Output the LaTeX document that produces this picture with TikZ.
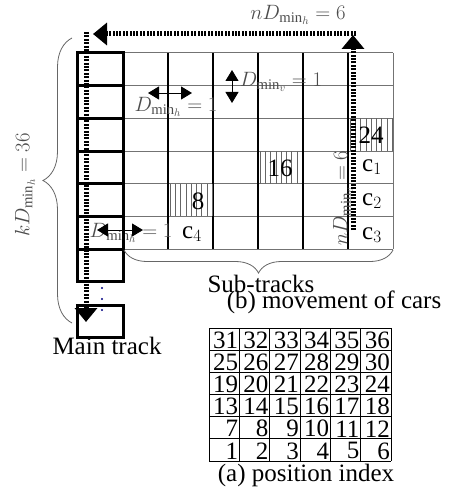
\documentclass[tikz,border=0pt]{standalone}
\usepackage{fontspec}
\setmainfont{Liberation Serif}
\usetikzlibrary{arrows.meta}
\usetikzlibrary{decorations.pathreplacing}
\tikzstyle{track} = [draw=black, line width=3pt]
\tikzstyle{subline} = [draw=black, line width=1.3pt]
\tikzstyle{rowline} = [draw=black!55, line width=1pt]
\tikzstyle{hatch} = [draw=black!60, line width=0.7pt]
\tikzstyle{carpath} = [line width=5pt, dash pattern=on 2pt off 1.4pt, -{Triangle[length=14pt,width=22pt]}]
\tikzstyle{dmin} = [line width=0.9pt, {Triangle[length=11pt,width=13pt]}-{Triangle[length=11pt,width=13pt]}]
\tikzstyle{mlabel} = [text=black!70, inner sep=0pt, font=\fontsize{21}{24}\selectfont]
\tikzstyle{tlabel} = [inner sep=0pt, font=\fontsize{25}{28}\selectfont]
\tikzstyle{idx} = [inner sep=0pt, anchor=east, font=\fontsize{25}{28}\selectfont]
\tikzstyle{brc} = [draw=black!60, line width=0.8pt, decorate]

\begin{document}
\begin{tikzpicture}[x=1pt, y=-1pt]
\useasboundingbox (0,0) rectangle (451,492);

% Sub-track grid
\foreach \i in {0,...,6}
	\draw[rowline] (123,{53+\i*32.667}) -- (393,{53+\i*32.667});
\foreach \j in {1,...,4}
	\draw[subline] ({123+\j*45},53) -- ({123+\j*45},249);
\draw[line width=2.4pt] (348,53) -- (348,249);
\draw[rowline] (393,53) -- (393,249);

% Occupied cells
\foreach \cx/\cy/\n in {348/118.33/8, 258/151/7, 168/183.67/8}
	\foreach \k in {0,...,\n}
		\draw[hatch] ({\cx+2+\k*5.3},\cy) -- ({\cx+2+\k*5.3},{\cy+32.667});

\node[tlabel] (n24) at (371,135) {24};
\node[tlabel] (n16) at (280,168) {16};
\node[tlabel] (n8)  at (198,201) {8};
\node[tlabel] (c1) at (372,167) {c$_1$};
\node[tlabel] (c2) at (372,201) {c$_2$};
\node[tlabel] (c3) at (372,235) {c$_3$};
\node[tlabel] (c4) at (192,234) {c$_4$};

% Distance labels
\node[mlabel] (nDh) at (298,15) {$nD_{\min_h}=6$};
\node[mlabel] (Dv)  at (281,82) {$D_{\min_v}=1$};
\node[mlabel] (Dh1) at (176,107) {$D_{\min_h}=1$};
\node[mlabel] (Dh2) at (131,233) {$D_{\min_h}=1$};
\node[mlabel, rotate=90] (kDh) at (25,185) {$kD_{\min_h}=36$};
\node[mlabel, rotate=90] (nDv) at (343,198) {$nD_{\min_v}=6$};

\coordinate (dh1a) at (148,93);
\coordinate (dh1b) at (192,93);
\coordinate (dva) at (232,70);
\coordinate (dvb) at (232,103);
\coordinate (dh2a) at (97,230);
\coordinate (dh2b) at (143,230);
\draw[dmin] (dh1a) -- (dh1b);
\draw[dmin] (dva) -- (dvb);
\draw[dmin] (dh2a) -- (dh2b);

% Main track
\foreach \i in {0,...,6}
	\draw[track] (77,{53+\i*32.667}) rectangle (123,{53+(\i+1)*32.667});
\node[track, minimum width=46pt, minimum height=32pt, inner sep=0pt] (last) at (100,321) {};
\foreach \y in {288,299,310}
	\fill[blue!50!black] (102,\y) circle (1.2pt);
\node[tlabel] (main) at (107,346) {Main track};

% Braces
\coordinate (kb) at (72,323);
\coordinate (kt) at (72,38);
\draw[brc, decoration={brace, amplitude=29pt}] (kb) -- (kt);
\coordinate (sr) at (393,250);
\coordinate (sl) at (124,250);
\draw[brc, decoration={brace, amplitude=23pt}] (sr) -- (sl);
\node[tlabel] (sub) at (261,284) {Sub-tracks};
\node[tlabel] (capb) at (334,302) {(b) movement of cars};

% Car movement
\coordinate (rb) at (353,230);
\coordinate (rt) at (353,35);
\coordinate (tr) at (356,34);
\coordinate (tl) at (93,34);
\coordinate (lt) at (86,32);
\coordinate (lb) at (86,322);
\draw[carpath] (rb) -- (rt);
\draw[carpath] (tr) -- (tl);
\draw[carpath] (lt) -- (lb);

% Position index
\foreach \i in {0,...,6}
	\draw[line width=0.9pt] (209,{328+\i*22.167}) -- (391,{328+\i*22.167});
\foreach \j in {0,...,6}
	\draw[line width=0.9pt] ({209+\j*30.333},328) -- ({209+\j*30.333},461);
\foreach \r in {0,...,5}
	\foreach \c in {0,...,5}{
		\pgfmathtruncatemacro\num{\r*6+\c+1}
		\node[idx] (p\num) at ({209+(\c+1)*30.333-1},{461-(\r+0.5)*22.167+1}) {\num};
	}
\node[tlabel] (capa) at (306,475) {(a) position index};
\end{tikzpicture}
\end{document}
